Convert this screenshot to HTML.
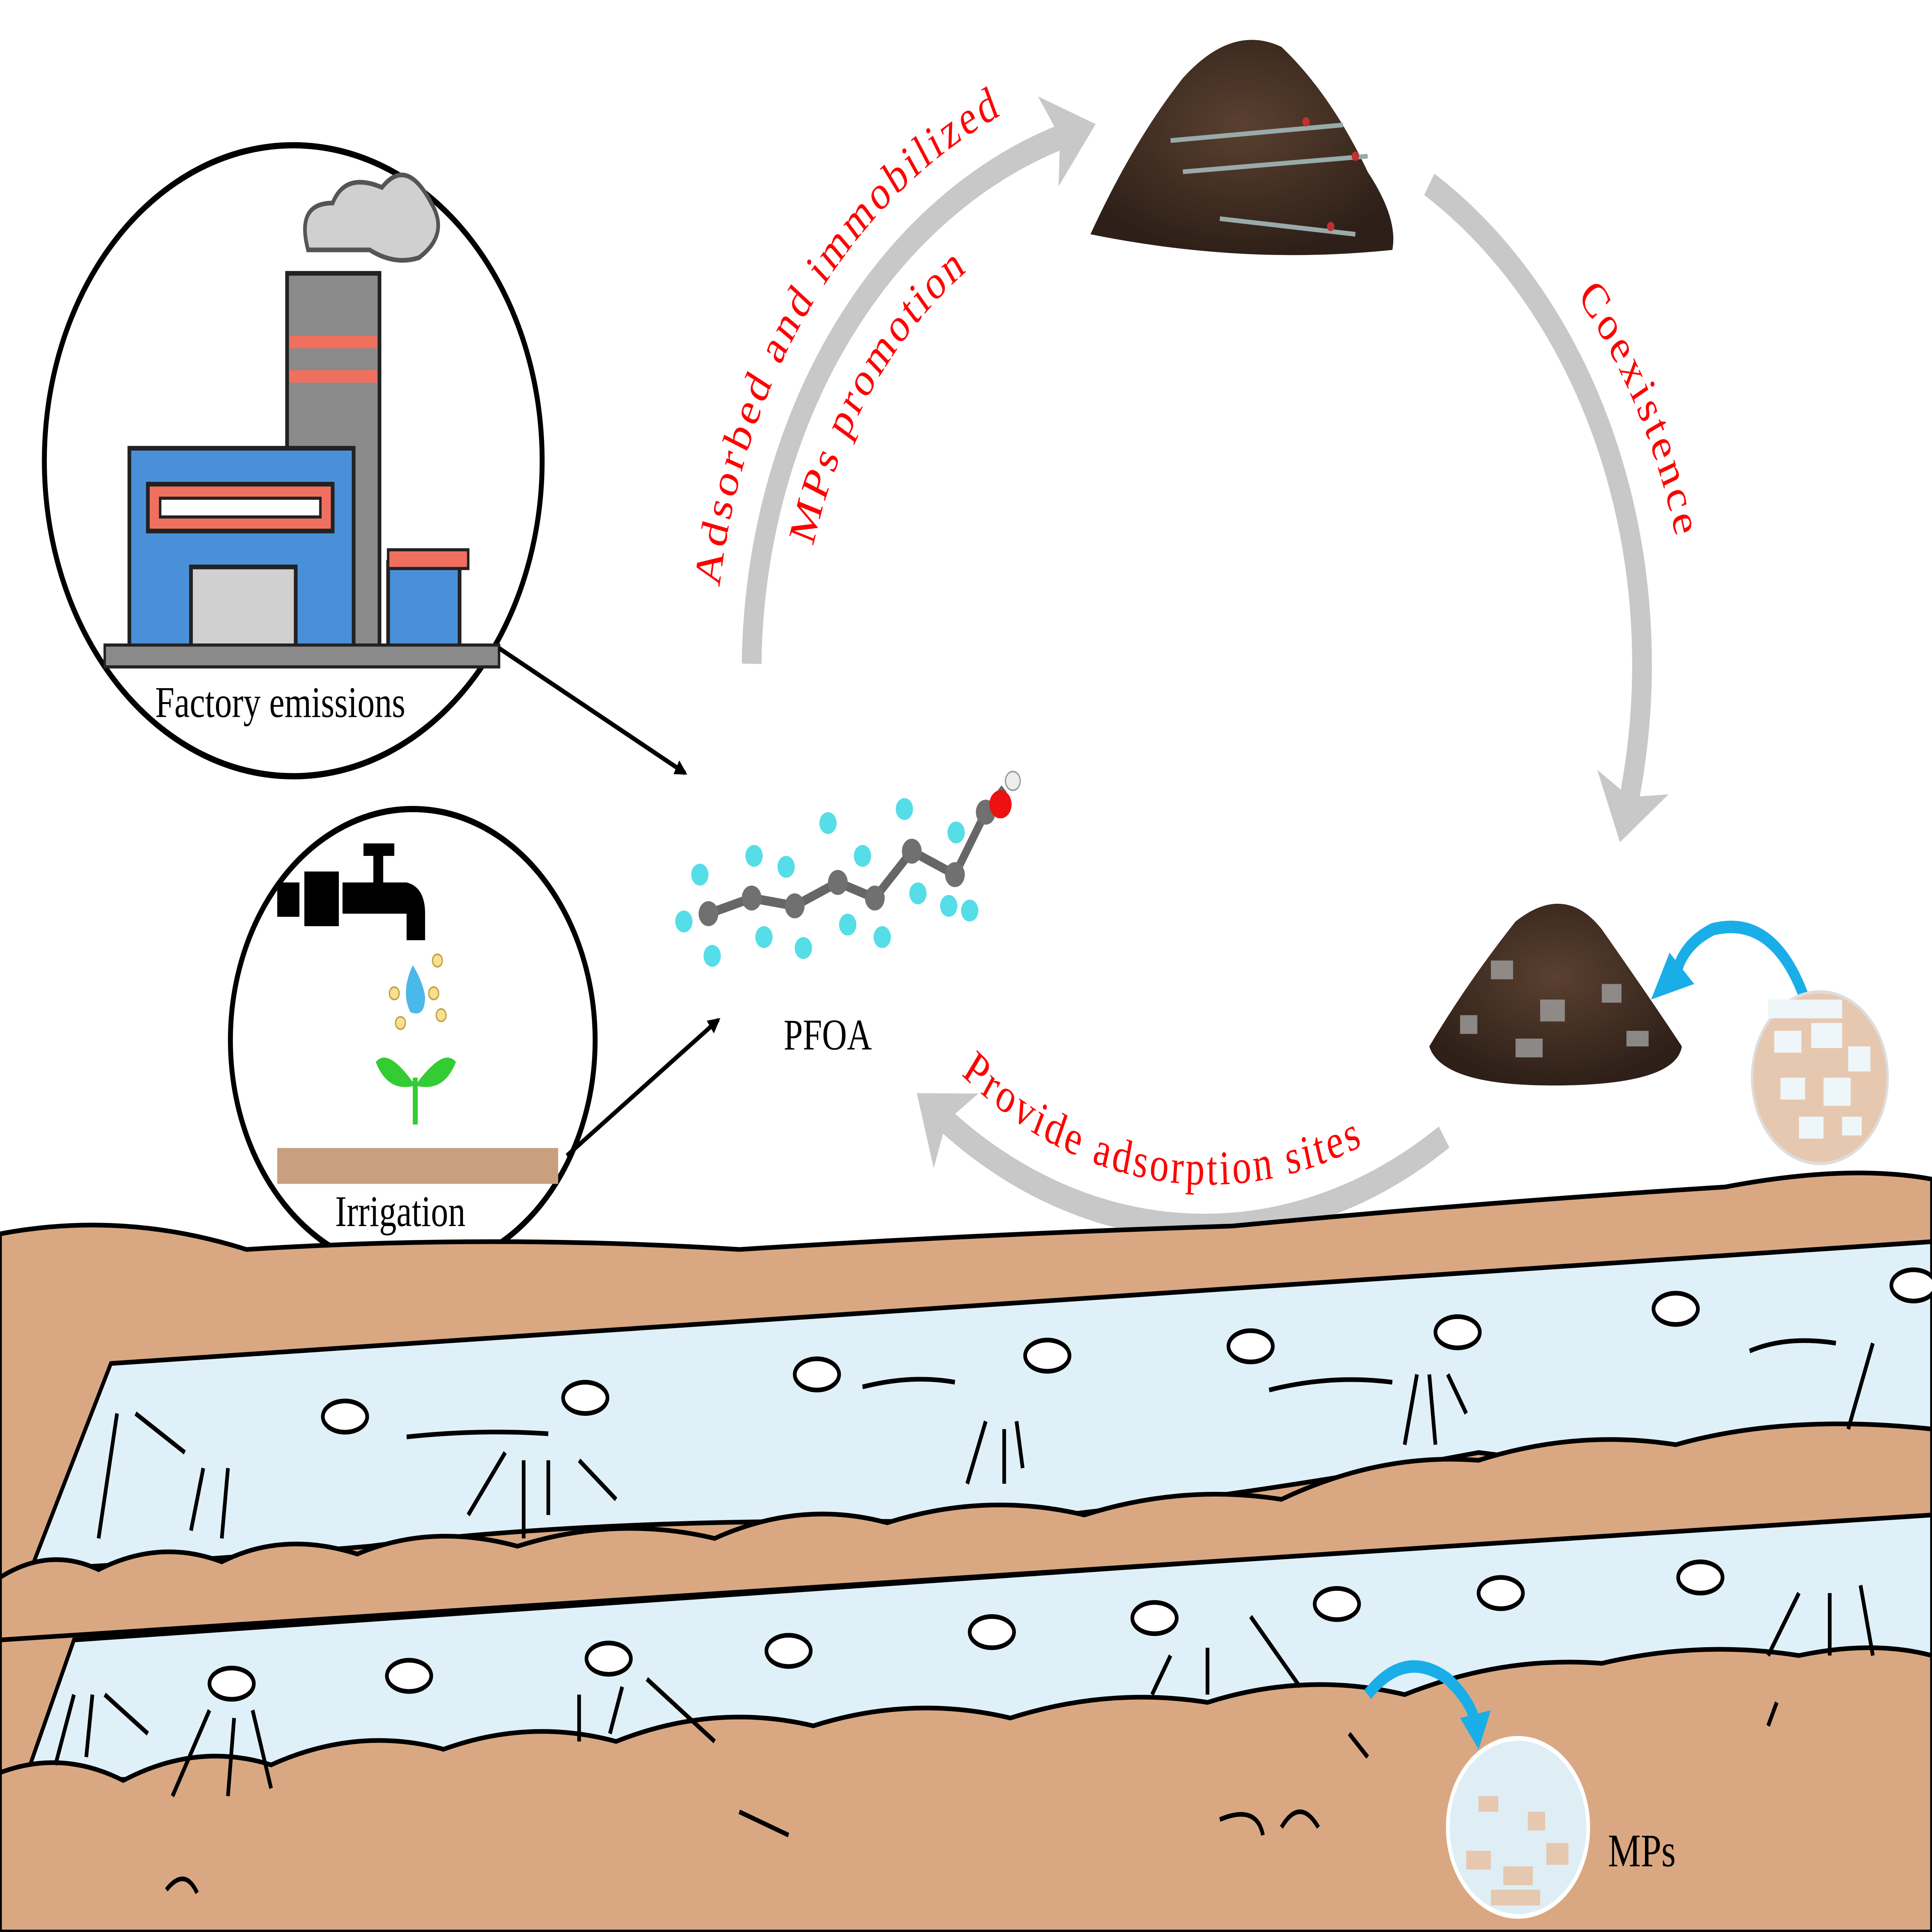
<!DOCTYPE html>
<html><head><meta charset="utf-8"><style>
html,body{margin:0;padding:0;background:#fff;width:100%;height:100%;overflow:hidden;}
svg{display:block;width:100vw;height:100vh;}
text{font-family:"Liberation Serif",serif;}
</style></head><body>
<svg viewBox="0 0 1568 1237" preserveAspectRatio="none" xmlns="http://www.w3.org/2000/svg">
<defs>
<marker id="ah" markerWidth="10" markerHeight="10" refX="8" refY="5" orient="auto" markerUnits="userSpaceOnUse"><path d="M0,0 L10,5 L0,10 Z" fill="#000"/></marker>
<marker id="gh" markerWidth="60" markerHeight="60" refX="20" refY="30" orient="auto" markerUnits="userSpaceOnUse"><path d="M0,0 L40,30 L0,60 L10,30 Z" fill="#c8c8c8"/></marker>
<radialGradient id="soil" cx="50%" cy="40%" r="60%"><stop offset="0" stop-color="#5a4030"/><stop offset="1" stop-color="#2e2018"/></radialGradient>
<path id="pA" d="M584,376 A390,390 0 0 1 826,68"/>
<path id="pM" d="M660,350 A316,316 0 0 1 815,155"/>
<path id="pC" d="M1280,190 A395,395 0 0 1 1366,370"/>
<path id="pP" d="M780,688 A322,322 0 0 0 1130,722"/>
</defs>
<rect width="1568" height="1237" fill="#fff"/>

<g fill="none" stroke="#c8c8c8" stroke-width="16">
<path d="M610,425 A360,360 0 0 1 870,85" marker-end="url(#gh)"/>
<path d="M1160,118 A360,360 0 0 1 1320,520" marker-end="url(#gh)"/>
<path d="M1172,728 A360,360 0 0 1 760,712" marker-end="url(#gh)"/>
</g>

<g fill="#ff0000" font-size="31">
<text><textPath href="#pA" textLength="395" lengthAdjust="spacing">Adsorbed and immobilized</textPath></text>
<text><textPath href="#pM" textLength="220" lengthAdjust="spacing">MPs promotion</textPath></text>
<text><textPath href="#pC" textLength="175" lengthAdjust="spacing">Coexistence</textPath></text>
<text><textPath href="#pP" textLength="345" lengthAdjust="spacing">Provide adsorption sites</textPath></text>
</g>

<path d="M885,150 Q920,90 960,50 Q1000,15 1040,30 Q1080,60 1110,110 Q1135,140 1130,160 Q1010,170 885,150 Z" fill="url(#soil)"/>
<g stroke="#9aa" stroke-width="3" fill="none"><path d="M950,90 L1090,80 M960,110 L1110,100 M990,140 L1100,150"/></g>
<g fill="#c03030"><circle cx="1060" cy="78" r="3"/><circle cx="1100" cy="100" r="3"/><circle cx="1080" cy="145" r="3"/></g>

<path d="M1160,670 Q1190,630 1230,590 Q1270,565 1300,595 Q1340,640 1365,670 Q1360,695 1260,695 Q1170,695 1160,670 Z" fill="url(#soil)"/>
<g fill="#a0a0a0" opacity="0.8"><rect x="1210" y="615" width="18" height="12"/><rect x="1250" y="640" width="20" height="14"/><rect x="1300" y="630" width="16" height="12"/><rect x="1230" y="665" width="22" height="12"/><rect x="1320" y="660" width="18" height="10"/><rect x="1185" y="650" width="14" height="12"/></g>

<circle cx="238" cy="295" r="202" fill="#fff" stroke="#000" stroke-width="4"/>
<path d="M250,160 Q240,130 270,130 Q280,110 310,120 Q330,100 350,130 Q365,150 340,165 Q320,170 300,160 Z" fill="#d0d0d0" stroke="#555" stroke-width="3"/>
<rect x="233" y="175" width="75" height="240" fill="#8a8a8a" stroke="#222" stroke-width="3"/>
<rect x="235" y="215" width="71" height="8" fill="#f07060"/><rect x="235" y="237" width="71" height="8" fill="#f07060"/>
<rect x="105" y="287" width="182" height="128" fill="#4a90d9" stroke="#222" stroke-width="3"/>
<rect x="120" y="310" width="150" height="30" fill="#f07060" stroke="#222" stroke-width="3"/>
<rect x="130" y="319" width="130" height="12" fill="#fff" stroke="#222" stroke-width="2"/>
<rect x="155" y="363" width="85" height="52" fill="#d0d0d0" stroke="#222" stroke-width="3"/>
<rect x="315" y="360" width="58" height="55" fill="#4a90d9" stroke="#222" stroke-width="3"/>
<rect x="315" y="352" width="65" height="12" fill="#f07060" stroke="#222" stroke-width="2"/>
<rect x="85" y="413" width="320" height="14" fill="#8a8a8a" stroke="#222" stroke-width="2"/>
<text x="126" y="459" font-size="28">Factory emissions</text>

<circle cx="335" cy="666" r="148" fill="#fff" stroke="#000" stroke-width="4"/>
<rect x="225" y="565" width="18" height="22" fill="#000"/><rect x="247" y="558" width="28" height="35" fill="#000"/>
<path d="M278,565 L330,565 Q345,568 345,585 L345,602 L330,602 L330,585 L278,585 Z" fill="#000"/>
<rect x="295" y="540" width="25" height="8" fill="#000"/><rect x="303" y="544" width="8" height="22" fill="#000"/>
<path d="M335,618 Q325,635 333,648 Q345,652 345,638 Q343,628 335,618 Z" fill="#4ab8e8"/>
<g fill="#f8e090" stroke="#c0a040"><circle cx="320" cy="636" r="4"/><circle cx="352" cy="636" r="4"/><circle cx="325" cy="655" r="4"/><circle cx="355" cy="615" r="4"/><circle cx="358" cy="650" r="4"/></g>
<path d="M337,720 L337,690" stroke="#33cc33" stroke-width="4"/>
<path d="M337,695 Q315,670 305,680 Q315,700 337,695 Z M337,695 Q360,670 370,680 Q360,700 337,695 Z" fill="#33cc33"/>
<rect x="225" y="735" width="228" height="23" fill="#c8a080"/>
<text x="272" y="785" font-size="28">Irrigation</text>

<line x1="405" y1="415" x2="556" y2="495" stroke="#000" stroke-width="3" marker-end="url(#ah)"/>
<line x1="460" y1="740" x2="583" y2="653" stroke="#000" stroke-width="3" marker-end="url(#ah)"/>

<g stroke="#666" stroke-width="6" fill="none"><path d="M575,585 L610,575 L645,580 L680,565 L710,575 L740,545 L775,560 L800,520 L815,505"/></g>
<g fill="#707070"><circle cx="575" cy="585" r="8"/><circle cx="610" cy="575" r="8"/><circle cx="645" cy="580" r="8"/><circle cx="680" cy="565" r="8"/><circle cx="710" cy="575" r="8"/><circle cx="740" cy="545" r="8"/><circle cx="775" cy="560" r="8"/><circle cx="800" cy="520" r="8"/></g>
<g fill="#55dde8"><circle cx="555" cy="590" r="7"/><circle cx="568" cy="560" r="7"/><circle cx="578" cy="612" r="7"/><circle cx="612" cy="548" r="7"/><circle cx="620" cy="600" r="7"/><circle cx="638" cy="555" r="7"/><circle cx="652" cy="607" r="7"/><circle cx="672" cy="527" r="7"/><circle cx="688" cy="592" r="7"/><circle cx="700" cy="548" r="7"/><circle cx="716" cy="600" r="7"/><circle cx="734" cy="518" r="7"/><circle cx="745" cy="572" r="7"/><circle cx="770" cy="580" r="7"/><circle cx="787" cy="583" r="7"/><circle cx="776" cy="533" r="7"/></g>
<circle cx="812" cy="515" r="9" fill="#ee1111"/><circle cx="822" cy="500" r="6" fill="#eee" stroke="#999"/>
<text x="636" y="672" font-size="28">PFOA</text>

<path d="M0,790 Q100,775 200,800 Q400,790 600,800 Q800,790 1000,785 Q1200,770 1400,760 Q1500,745 1568,755 L1568,1237 L0,1237 Z" fill="#d9a882" stroke="#000" stroke-width="3"/>
<path d="M90,873 L1568,795 L1568,965 Q1400,950 1200,930 Q1000,960 800,975 Q500,970 300,990 Q150,1000 25,1005 Z" fill="#dff0f8" stroke="#000" stroke-width="3"/>
<path d="M60,1050 L1568,968 L1568,1070 Q1400,1060 1250,1080 Q1050,1095 900,1100 Q600,1110 400,1125 Q200,1140 20,1140 Z" fill="#dff0f8" stroke="#000" stroke-width="3"/>
<g fill="#d9a882" stroke="#000" stroke-width="3">
<path d="M0,1010 Q40,990 80,1005 Q130,985 180,1000 Q230,980 290,995 Q350,975 420,990 Q500,970 580,985 Q650,960 720,975 Q800,955 880,970 Q960,950 1040,960 Q1120,930 1200,935 Q1280,915 1360,925 Q1450,905 1568,915 L1568,970 L0,1050 Z"/>
<path d="M0,1135 Q50,1120 100,1140 Q160,1115 220,1130 Q290,1105 360,1120 Q430,1100 500,1115 Q580,1090 660,1105 Q740,1085 820,1100 Q900,1080 980,1090 Q1060,1070 1140,1085 Q1220,1060 1300,1065 Q1380,1050 1460,1060 Q1520,1050 1568,1060 L1568,1237 L0,1237 Z"/>
</g>
<g fill="#fff" stroke="#000" stroke-width="3">
<ellipse cx="280" cy="907" rx="18" ry="10"/><ellipse cx="475" cy="895" rx="18" ry="10"/><ellipse cx="663" cy="880" rx="18" ry="10"/><ellipse cx="850" cy="868" rx="18" ry="10"/><ellipse cx="1015" cy="862" rx="18" ry="10"/><ellipse cx="1183" cy="853" rx="18" ry="10"/><ellipse cx="1360" cy="838" rx="18" ry="10"/><ellipse cx="1553" cy="823" rx="18" ry="10"/>
<ellipse cx="188" cy="1078" rx="18" ry="10"/><ellipse cx="332" cy="1073" rx="18" ry="10"/><ellipse cx="494" cy="1062" rx="18" ry="10"/><ellipse cx="640" cy="1057" rx="18" ry="10"/><ellipse cx="805" cy="1045" rx="18" ry="10"/><ellipse cx="937" cy="1036" rx="18" ry="10"/><ellipse cx="1085" cy="1027" rx="18" ry="10"/><ellipse cx="1218" cy="1020" rx="18" ry="10"/><ellipse cx="1380" cy="1010" rx="18" ry="10"/>
</g>
<g stroke="#000" stroke-width="3" fill="none">
<path d="M80,985 L95,905 M110,905 L150,930 M155,980 L165,940 M180,985 L185,940 M380,970 L410,930 M425,985 L425,935 M445,970 L445,935 M470,935 L500,960 M785,950 L800,910 M815,950 L815,915 M830,940 L825,910 M1140,925 L1150,880 M1165,925 L1160,880 M1175,880 L1190,905 M1500,915 L1520,860 M700,888 Q740,880 775,885 M1030,890 Q1080,880 1130,885 M1420,865 Q1450,855 1490,860 M330,920 Q390,915 445,918"/>
<path d="M45,1130 L60,1085 M70,1125 L75,1085 M85,1085 L120,1110 M140,1150 L170,1095 M185,1150 L190,1100 M205,1095 L220,1145 M470,1115 L470,1085 M495,1110 L505,1080 M525,1075 L580,1115 M935,1085 L950,1060 M980,1085 L980,1055 M1015,1035 L1055,1080 M1435,1060 L1460,1020 M1485,1060 L1485,1020 M1520,1060 L1510,1015 M600,1160 L640,1175 M990,1165 Q1020,1155 1025,1175 M1040,1170 Q1055,1150 1070,1170 M135,1210 Q150,1195 160,1212 M1095,1110 L1110,1125 M1435,1105 L1442,1090"/>
</g>
<path d="M1465,640 Q1440,585 1390,595 Q1365,605 1360,625" fill="none" stroke="#1aaee8" stroke-width="8"/>
<path d="M1340,640 L1355,610 L1375,630 Z" fill="#1aaee8"/>
<path d="M1110,1085 Q1140,1055 1175,1075 Q1195,1090 1198,1105" fill="none" stroke="#1aaee8" stroke-width="8"/>
<path d="M1185,1100 L1210,1095 L1200,1120 Z" fill="#1aaee8"/>
<circle cx="1477" cy="690" r="55" fill="#e6c8b0" stroke="#ddd" stroke-width="2"/>
<g fill="#eef6fa"><rect x="1440" y="660" width="22" height="14"/><rect x="1470" y="655" width="25" height="16"/><rect x="1500" y="670" width="18" height="16"/><rect x="1445" y="690" width="20" height="14"/><rect x="1480" y="690" width="22" height="18"/><rect x="1460" y="715" width="20" height="14"/><rect x="1495" y="715" width="16" height="12"/><rect x="1435" y="640" width="60" height="12"/></g>
<circle cx="1232" cy="1170" r="57" fill="#dfeef5" stroke="#fff" stroke-width="3"/>
<g fill="#e6c8b0"><rect x="1190" y="1185" width="20" height="12"/><rect x="1220" y="1195" width="24" height="12"/><rect x="1255" y="1180" width="18" height="14"/><rect x="1200" y="1150" width="16" height="10"/><rect x="1240" y="1160" width="14" height="12"/><rect x="1210" y="1210" width="40" height="10"/></g>
<text x="1305" y="1195" font-size="30">MPs</text>
</svg>
</body></html>
